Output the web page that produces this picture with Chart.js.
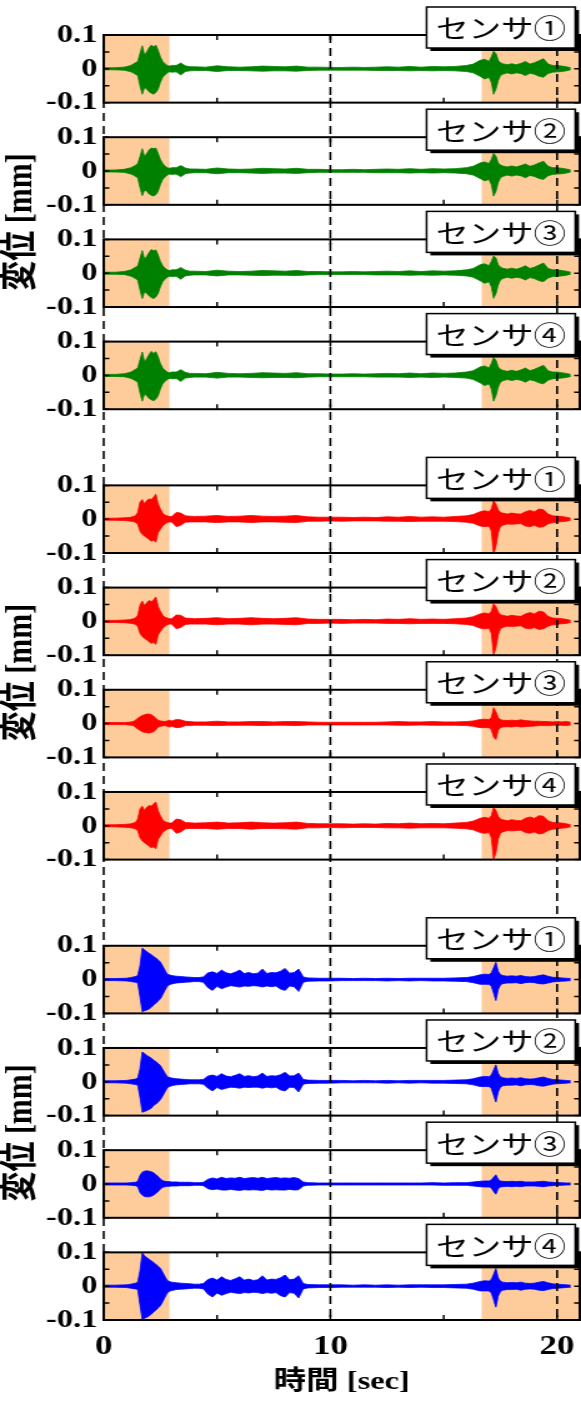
<!DOCTYPE html>
<html>
<head>
<meta charset="utf-8">
<script src="https://cdn.jsdelivr.net/npm/chart.js@4.4.1/dist/chart.umd.min.js"></script>
<style>
    html, body { margin: 0; background: #fff; }
</style>
</head>
<body>
<canvas id="chart" width="465" height="1401" style="display:block;width:581px;height:1401px"></canvas>
<script>
// time samples [sec]
const timeGR = [0,0.5,0.9,1.1,1.2,1.3,1.4,1.5,1.6,1.7,1.8,1.9,2.0,2.1,2.2,2.3,2.4,2.5,2.6,2.7,2.8,2.9,3.0,3.2,3.4,3.6,3.8,4.0,4.5,5.0,5.5,6.0,6.5,7.0,7.5,8.0,8.5,9.0,9.5,10.0,10.5,11.0,11.5,12.0,12.5,13.0,13.5,14.0,14.5,15.0,15.5,16.0,16.3,16.6,16.8,17.0,17.1,17.2,17.3,17.4,17.5,17.6,17.8,18.0,18.2,18.4,18.6,18.8,19.0,19.2,19.4,19.6,19.8,20.0,20.2,20.4,20.6];
const timeB = [0,0.5,1.0,1.2,1.4,1.5,1.6,1.7,1.8,1.9,2.0,2.1,2.2,2.3,2.4,2.5,2.6,2.7,2.8,2.9,3.0,3.2,3.4,3.6,3.8,4.0,4.2,4.4,4.6,4.8,5.0,5.2,5.4,5.6,5.8,6.0,6.2,6.4,6.6,6.8,7.0,7.2,7.4,7.6,7.8,8.0,8.2,8.4,8.6,8.8,9.0,9.5,10.0,10.5,11.0,11.5,12.0,12.5,13.0,13.5,14.0,14.5,15.0,15.5,16.0,16.3,16.6,16.8,17.0,17.1,17.2,17.3,17.4,17.5,17.6,17.8,18.0,18.2,18.4,18.6,18.8,19.0,19.2,19.4,19.6,19.8,20.0,20.2,20.4,20.6];

// displacement envelope (upper / lower), in µm
const green1Hi = [3,3,5,8,10,14,18,22,45,68,40,50,62,70,65,70,55,35,22,15,10,8,10,10,17,9,6,6,5,9,6,5,6,8,7,6,8,5,5,4,4,5,4,5,6,5,7,5,7,6,7,10,14,25,28,22,35,52,45,25,18,15,12,15,12,16,22,14,18,24,30,14,10,10,8,6,3];
const green1Lo = [-3,-3,-4,-7,-9,-12,-16,-20,-50,-75,-55,-60,-68,-72,-75,-70,-60,-40,-25,-18,-12,-9,-10,-9,-18,-8,-6,-5,-5,-8,-5,-5,-6,-7,-6,-6,-7,-5,-4,-4,-4,-4,-4,-5,-5,-5,-6,-5,-6,-5,-6,-8,-12,-22,-30,-25,-40,-75,-60,-35,-20,-16,-12,-15,-12,-14,-20,-13,-16,-22,-25,-14,-10,-9,-8,-6,-3];
const green2Hi = [3,3,5,8,10,13,17,22,42,66,42,52,62,68,66,68,52,34,22,15,10,8,10,10,16,9,6,6,5,9,6,5,6,8,7,6,8,5,5,4,4,5,4,5,6,5,7,5,7,6,7,10,14,24,27,22,34,52,44,24,18,15,12,15,12,16,21,14,18,24,29,14,10,10,8,6,3];
const green2Lo = [-3,-3,-4,-7,-9,-12,-16,-20,-48,-73,-56,-60,-68,-72,-74,-70,-60,-40,-25,-18,-12,-9,-10,-9,-17,-8,-6,-5,-5,-8,-5,-5,-6,-7,-6,-6,-7,-5,-4,-4,-4,-4,-4,-5,-5,-5,-6,-5,-6,-5,-6,-8,-12,-22,-29,-25,-40,-74,-60,-35,-20,-16,-12,-15,-12,-14,-20,-13,-16,-22,-25,-14,-10,-9,-8,-6,-3];
const green3Hi = [3,3,5,8,10,14,18,21,44,67,41,50,61,70,66,69,54,35,22,15,10,8,10,10,17,9,6,6,5,9,6,5,6,8,7,6,8,5,5,4,4,5,4,5,6,5,7,5,7,6,7,10,14,25,28,22,35,51,45,25,18,15,12,15,12,16,22,14,18,24,30,14,10,10,8,6,3];
const green3Lo = [-3,-3,-4,-7,-9,-12,-16,-20,-49,-75,-55,-60,-67,-72,-75,-70,-60,-40,-25,-18,-12,-9,-10,-9,-18,-8,-6,-5,-5,-8,-5,-5,-6,-7,-6,-6,-7,-5,-4,-4,-4,-4,-4,-5,-5,-5,-6,-5,-6,-5,-6,-8,-12,-22,-30,-25,-40,-74,-60,-35,-20,-16,-12,-15,-12,-14,-20,-13,-16,-22,-25,-14,-10,-9,-8,-6,-3];
const green4Hi = [3,3,5,8,10,14,18,22,46,69,40,50,62,71,65,70,55,35,22,15,10,8,10,10,17,9,6,6,5,9,6,5,6,8,7,6,8,5,5,4,4,5,4,5,6,5,7,5,7,6,7,10,14,25,28,22,35,53,45,25,18,15,12,15,12,16,22,14,18,24,30,14,10,10,8,6,3];
const green4Lo = [-3,-3,-4,-7,-9,-12,-16,-20,-51,-76,-55,-60,-68,-72,-75,-70,-60,-40,-25,-18,-12,-9,-10,-9,-18,-8,-6,-5,-5,-8,-5,-5,-6,-7,-6,-6,-7,-5,-4,-4,-4,-4,-4,-5,-5,-5,-6,-5,-6,-5,-6,-8,-12,-22,-30,-25,-40,-76,-60,-35,-20,-16,-12,-15,-12,-14,-20,-13,-16,-22,-25,-14,-10,-9,-8,-6,-3];

const red1Hi = [3,3,4,5,6,8,10,20,50,58,45,55,60,58,65,74,45,30,18,12,10,8,8,20,18,10,9,8,9,11,8,9,11,9,8,9,11,7,6,6,6,5,6,5,7,6,8,6,7,6,8,10,14,22,25,22,30,55,45,28,20,18,15,18,16,15,22,26,22,30,28,15,10,9,8,6,3];
const red1Lo = [-3,-3,-4,-5,-6,-7,-9,-15,-35,-45,-50,-55,-60,-65,-62,-68,-40,-30,-20,-14,-10,-8,-8,-22,-18,-9,-8,-8,-8,-10,-8,-8,-10,-8,-8,-9,-10,-6,-6,-5,-6,-5,-5,-5,-6,-6,-7,-6,-6,-6,-7,-9,-12,-20,-22,-20,-35,-105,-80,-40,-22,-18,-14,-15,-14,-13,-20,-22,-18,-24,-22,-14,-10,-9,-7,-6,-3];
const red2Hi = [3,3,4,5,6,8,10,18,48,60,46,55,62,58,64,72,44,30,18,12,10,8,8,19,18,10,9,8,9,11,8,9,11,9,8,9,11,7,6,6,6,5,6,5,7,6,8,6,7,6,8,10,14,22,25,22,30,52,44,28,20,18,15,18,16,15,22,26,22,30,28,15,10,9,8,6,3];
const red2Lo = [-3,-3,-4,-5,-6,-7,-9,-15,-35,-45,-50,-55,-60,-65,-62,-68,-40,-30,-20,-14,-10,-8,-8,-22,-18,-9,-8,-8,-8,-10,-8,-8,-10,-8,-8,-9,-10,-6,-6,-5,-6,-5,-5,-5,-6,-6,-7,-6,-6,-6,-7,-9,-12,-20,-22,-20,-35,-100,-78,-40,-22,-18,-14,-15,-14,-13,-20,-22,-18,-24,-22,-14,-10,-9,-7,-6,-3];
const red3Hi = [3,3,3,4,5,6,10,16,20,24,26,28,28,26,22,16,10,8,7,6,8,10,8,12,11,7,6,5,5,7,5,5,6,6,5,6,6,5,4,4,4,4,4,4,5,6,5,5,6,5,5,6,8,12,13,12,18,47,35,18,12,10,9,10,9,11,9,8,7,7,6,6,5,6,5,6,4];
const red3Lo = [-3,-3,-3,-4,-5,-6,-10,-16,-20,-24,-26,-27,-28,-26,-24,-18,-10,-8,-7,-6,-8,-10,-8,-12,-11,-6,-6,-5,-5,-6,-5,-5,-5,-6,-5,-5,-6,-4,-4,-4,-4,-4,-4,-4,-4,-5,-5,-4,-5,-5,-5,-6,-8,-12,-12,-12,-18,-40,-47,-20,-12,-10,-9,-10,-8,-10,-9,-8,-7,-6,-6,-6,-5,-5,-5,-6,-4];
const red4Hi = [3,3,4,5,6,8,10,20,50,58,45,55,60,58,65,70,45,30,18,12,10,8,8,20,18,10,9,8,9,11,8,9,11,9,8,9,11,7,6,6,6,5,6,5,7,6,8,6,7,6,8,10,14,22,25,22,30,55,45,28,20,18,15,18,16,15,22,26,22,30,28,15,10,9,8,6,3];
const red4Lo = [-3,-3,-4,-5,-6,-7,-9,-15,-35,-45,-50,-55,-60,-65,-62,-68,-40,-30,-20,-14,-10,-8,-8,-22,-18,-9,-8,-8,-8,-10,-8,-8,-10,-8,-8,-9,-10,-6,-6,-5,-6,-5,-5,-5,-6,-6,-7,-6,-6,-6,-7,-9,-12,-20,-22,-20,-35,-100,-80,-40,-22,-18,-14,-15,-14,-13,-20,-22,-18,-24,-22,-14,-10,-9,-7,-6,-3];

const blue1Hi = [3,3,4,6,9,12,40,93,88,82,78,74,68,64,58,52,40,28,16,14,12,10,9,8,7,6,6,8,20,23,18,28,20,17,22,28,18,21,17,19,31,18,21,20,25,33,19,21,31,8,5,4,4,4,3,4,3,4,3,4,4,4,4,5,6,9,14,16,15,20,35,51,25,15,12,10,11,10,12,9,8,9,12,14,10,7,6,5,4,3];
const blue1Lo = [-3,-3,-4,-6,-8,-10,-50,-95,-92,-90,-87,-82,-75,-70,-63,-57,-45,-32,-20,-15,-13,-10,-9,-8,-7,-6,-6,-8,-24,-32,-20,-27,-22,-18,-20,-22,-19,-20,-18,-19,-22,-19,-21,-19,-28,-32,-19,-21,-35,-8,-5,-4,-4,-3,-3,-3,-3,-4,-3,-4,-3,-4,-4,-5,-6,-9,-14,-14,-14,-20,-40,-62,-30,-16,-12,-10,-10,-9,-12,-9,-8,-9,-12,-13,-10,-7,-6,-5,-4,-3];
const blue2Hi = [3,3,4,6,8,11,38,88,84,78,74,70,64,60,54,48,37,26,15,13,11,9,8,7,6,6,6,7,17,20,16,24,17,15,19,24,16,18,15,17,26,16,18,17,21,28,17,18,26,7,5,4,4,4,3,4,3,4,3,4,4,4,4,5,6,9,14,16,15,20,35,50,25,15,12,10,11,10,12,9,8,9,12,14,10,7,6,5,4,3];
const blue2Lo = [-3,-3,-4,-6,-8,-10,-45,-90,-88,-85,-82,-78,-70,-66,-60,-53,-42,-30,-18,-14,-12,-9,-8,-7,-6,-6,-6,-7,-19,-27,-17,-23,-19,-16,-17,-19,-16,-17,-16,-16,-19,-16,-18,-16,-24,-27,-16,-17,-30,-7,-5,-4,-4,-3,-3,-3,-3,-4,-3,-4,-3,-4,-4,-5,-6,-9,-14,-14,-14,-20,-40,-60,-30,-16,-12,-10,-10,-9,-12,-9,-8,-9,-12,-13,-10,-7,-6,-5,-4,-3];
const blue3Hi = [3,3,3,4,5,8,25,35,38,39,38,36,33,28,22,15,10,8,7,7,6,6,5,5,5,4,4,5,14,18,15,20,16,18,17,20,16,18,19,17,20,16,18,19,17,18,17,19,16,6,4,3,3,3,3,3,3,3,3,3,3,4,3,4,4,6,8,9,9,12,20,27,14,9,8,7,8,7,8,6,6,6,7,8,6,5,4,4,3,3];
const blue3Lo = [-3,-3,-3,-4,-5,-8,-25,-33,-37,-38,-38,-36,-33,-28,-22,-15,-10,-8,-7,-7,-6,-6,-5,-5,-5,-4,-4,-5,-14,-17,-15,-18,-18,-16,-18,-19,-17,-18,-17,-18,-19,-16,-18,-17,-18,-18,-16,-18,-17,-6,-4,-3,-3,-3,-3,-3,-3,-3,-3,-3,-3,-3,-4,-4,-4,-6,-8,-9,-9,-12,-22,-30,-14,-9,-8,-7,-8,-7,-8,-6,-6,-6,-7,-8,-6,-5,-4,-4,-3,-3];
const blue4Hi = [3,3,4,6,9,12,45,98,90,84,80,75,70,65,59,53,41,29,17,14,12,10,9,8,7,6,6,8,20,24,18,28,20,17,22,28,18,21,17,19,31,18,21,20,25,33,19,21,31,8,5,4,4,4,3,4,3,4,3,4,4,4,4,5,6,9,14,16,15,20,35,52,25,15,12,10,11,10,12,9,8,9,12,14,10,7,6,5,4,3];
const blue4Lo = [-3,-3,-4,-6,-8,-10,-55,-99,-95,-92,-88,-83,-76,-71,-64,-58,-46,-33,-20,-15,-13,-10,-9,-8,-7,-6,-6,-8,-24,-32,-20,-27,-22,-18,-20,-22,-19,-20,-18,-19,-22,-19,-21,-19,-28,-32,-19,-21,-35,-8,-5,-4,-4,-3,-3,-3,-3,-4,-3,-4,-3,-4,-4,-5,-6,-9,-14,-14,-14,-20,-40,-62,-30,-16,-12,-10,-10,-9,-12,-9,-8,-9,-12,-13,-10,-7,-6,-5,-4,-3];

const sensorLabels = ["センサ①", "センサ②", "センサ③", "センサ④"];
const shadedRanges = [[0, 2.9], [16.67, 21]];   // sec
const guideTimes = [0, 10, 20];                 // dashed lines
const timeMarks = [0, 5, 10, 15, 20];
const dispMarks = [-0.1, -0.05, 0, 0.05, 0.1];

const GREEN = "#008000", RED = "#ff0000", BLUE = "#0000ff";
const SHADE = "#fdcc9a";
const SERIF = '"Liberation Serif", "Noto Sans CJK JP", serif';
const CJK = '"Noto Sans CJK JP", sans-serif';

const panels = [
    { time: timeGR, hi: green1Hi, lo: green1Lo, color: GREEN },
    { time: timeGR, hi: green2Hi, lo: green2Lo, color: GREEN },
    { time: timeGR, hi: green3Hi, lo: green3Lo, color: GREEN },
    { time: timeGR, hi: green4Hi, lo: green4Lo, color: GREEN },
    { time: timeGR, hi: red1Hi, lo: red1Lo, color: RED },
    { time: timeGR, hi: red2Hi, lo: red2Lo, color: RED },
    { time: timeGR, hi: red3Hi, lo: red3Lo, color: RED },
    { time: timeGR, hi: red4Hi, lo: red4Lo, color: RED },
    { time: timeB, hi: blue1Hi, lo: blue1Lo, color: BLUE },
    { time: timeB, hi: blue2Hi, lo: blue2Lo, color: BLUE },
    { time: timeB, hi: blue3Hi, lo: blue3Lo, color: BLUE },
    { time: timeB, hi: blue4Hi, lo: blue4Lo, color: BLUE },
];

// vertical layout (weights of the stacked axes, roughly in px)
const PANEL_H = 67.5, INNER_GAP = 34.5, GROUP_GAPS = [76, 86];

function toPoints(time, vals) {
    return time.map((t, i) => ({ x: t, y: vals[i] / 1000 }));
}

const scales = {
    x: {
        type: "linear",
        position: "bottom",
        min: 0,
        max: 21,
        ticks: { stepSize: 10, includeBounds: false, maxRotation: 0, padding: 10, color: "#000",
                 font: { family: SERIF, size: 28, weight: "bold" } },
        grid: { display: false, drawTicks: false },
        border: { display: false },
        title: { display: true, text: "時間 [sec]", color: "#000", padding: { top: 0, bottom: 3 },
                 font: { family: SERIF, size: 26, weight: "bold" } },
        afterFit: (s) => {
            s.height = 81;
            s.paddingLeft = 0;
            s.paddingRight = 0;
        },
    },
};

let order = 100;
panels.forEach((p, i) => {
    scales["y" + i] = {
        type: "linear",
        position: "left",
        stack: "panels",
        stackWeight: PANEL_H,
        weight: order--,
        min: -0.1,
        max: 0.1,
        ticks: { stepSize: 0.1, autoSkip: false, padding: 5, color: "#000",
                 font: { family: SERIF, size: 26, weight: "bold" } },
        grid: { display: false, drawTicks: false },
        border: { display: false },
        afterFit: (s) => { s.width = 48; },
    };
    if (i < panels.length - 1) {
        const gap = i % 4 === 3 ? GROUP_GAPS[(i - 3) / 4] : INNER_GAP;
        scales["gap" + i] = {
            type: "linear",
            position: "left",
            stack: "panels",
            stackWeight: gap,
            weight: order--,
            ticks: { display: false },
            grid: { display: false, drawTicks: false },
            border: { display: false },
        };
    }
});

const datasets = [];
panels.forEach((p, i) => {
    const common = {
        xAxisID: "x",
        yAxisID: "y" + i,
        borderColor: p.color,
        backgroundColor: p.color,
        borderWidth: 0.8,
        pointRadius: 0,
        tension: 0,
    };
    datasets.push({ ...common, data: toPoints(p.time, p.hi), fill: "+1" });
    datasets.push({ ...common, data: toPoints(p.time, p.lo), fill: false });
});

const decor = {
    id: "decor",
    beforeDatasetsDraw(chart) {
        const { ctx } = chart;
        const xs = chart.scales.x;
        ctx.save();
        ctx.fillStyle = SHADE;
        panels.forEach((p, i) => {
            const ys = chart.scales["y" + i];
            shadedRanges.forEach(([a, b]) => {
                const x0 = xs.getPixelForValue(a);
                const x1 = xs.getPixelForValue(b);
                ctx.fillRect(x0, ys.top, x1 - x0, ys.bottom - ys.top);
            });
        });
        ctx.restore();
    },
    afterDatasetsDraw(chart) {
        const { ctx, chartArea } = chart;
        const xs = chart.scales.x;
        ctx.save();
        ctx.strokeStyle = "#000";

        // dashed guides through all panels
        ctx.lineWidth = 1.6;
        ctx.setLineDash([8, 5]);
        guideTimes.forEach((t) => {
            const px = xs.getPixelForValue(t);
            ctx.beginPath();
            ctx.moveTo(px, chartArea.top);
            ctx.lineTo(px, chartArea.bottom);
            ctx.stroke();
        });
        ctx.setLineDash([]);

        panels.forEach((p, i) => {
            const ys = chart.scales["y" + i];
            ctx.lineWidth = 1.5;
            ctx.beginPath();
            timeMarks.forEach((t) => {
                const px = xs.getPixelForValue(t);
                ctx.moveTo(px, ys.top);
                ctx.lineTo(px, ys.top + 5);
                ctx.moveTo(px, ys.bottom);
                ctx.lineTo(px, ys.bottom - 5);
            });
            dispMarks.forEach((v) => {
                const py = ys.getPixelForValue(v);
                ctx.moveTo(xs.left, py);
                ctx.lineTo(xs.left + 4.5, py);
                ctx.moveTo(xs.right, py);
                ctx.lineTo(xs.right - 4.5, py);
            });
            ctx.stroke();
            ctx.lineWidth = 2;
            ctx.strokeRect(xs.left, ys.top, xs.right - xs.left, ys.bottom - ys.top);
        });
        ctx.restore();
    },
    afterDraw(chart) {
        const { ctx, chartArea } = chart;
        ctx.save();

        // sensor name boxes
        panels.forEach((p, i) => {
            const ys = chart.scales["y" + i];
            const right = chartArea.right - 3.6;
            const w = 119, h = 41;
            const left = right - w, top = ys.top - 28;
            ctx.fillStyle = "#000";
            ctx.fillRect(left + 3, top + 3, w, h);
            ctx.fillStyle = "#fff";
            ctx.fillRect(left, top, w, h);
            ctx.lineWidth = 1.5;
            ctx.strokeStyle = "#000";
            ctx.strokeRect(left, top, w, h);
            ctx.fillStyle = "#000";
            ctx.font = "26px " + CJK;
            ctx.textAlign = "center";
            ctx.textBaseline = "middle";
            ctx.fillText(sensorLabels[i % 4], left + w / 2, top + h / 2 + 1);
        });

        // y titles, one per group
        ctx.font = "bold 30px " + SERIF;
        ctx.fillStyle = "#000";
        ctx.textAlign = "center";
        ctx.textBaseline = "middle";
        for (let g = 0; g < 3; g++) {
            const top = chart.scales["y" + g * 4].top;
            const bottom = chart.scales["y" + (g * 4 + 3)].bottom;
            ctx.save();
            ctx.translate(17.5, (top + bottom) / 2);
            ctx.rotate(-Math.PI / 2);
            ctx.fillText("変位 [mm]", 0, 0);
            ctx.restore();
        }
        ctx.restore();
    },
};

new Chart(document.getElementById("chart"), {
    type: "line",
    data: { datasets },
    options: {
        responsive: false,
        animation: false,
        devicePixelRatio: 1,
        layout: { padding: { top: 35, left: 35, right: 1, bottom: 0 } },
        plugins: { legend: { display: false }, tooltip: { enabled: false } },
        scales,
    },
    plugins: [decor],
});
</script>
</body>
</html>
